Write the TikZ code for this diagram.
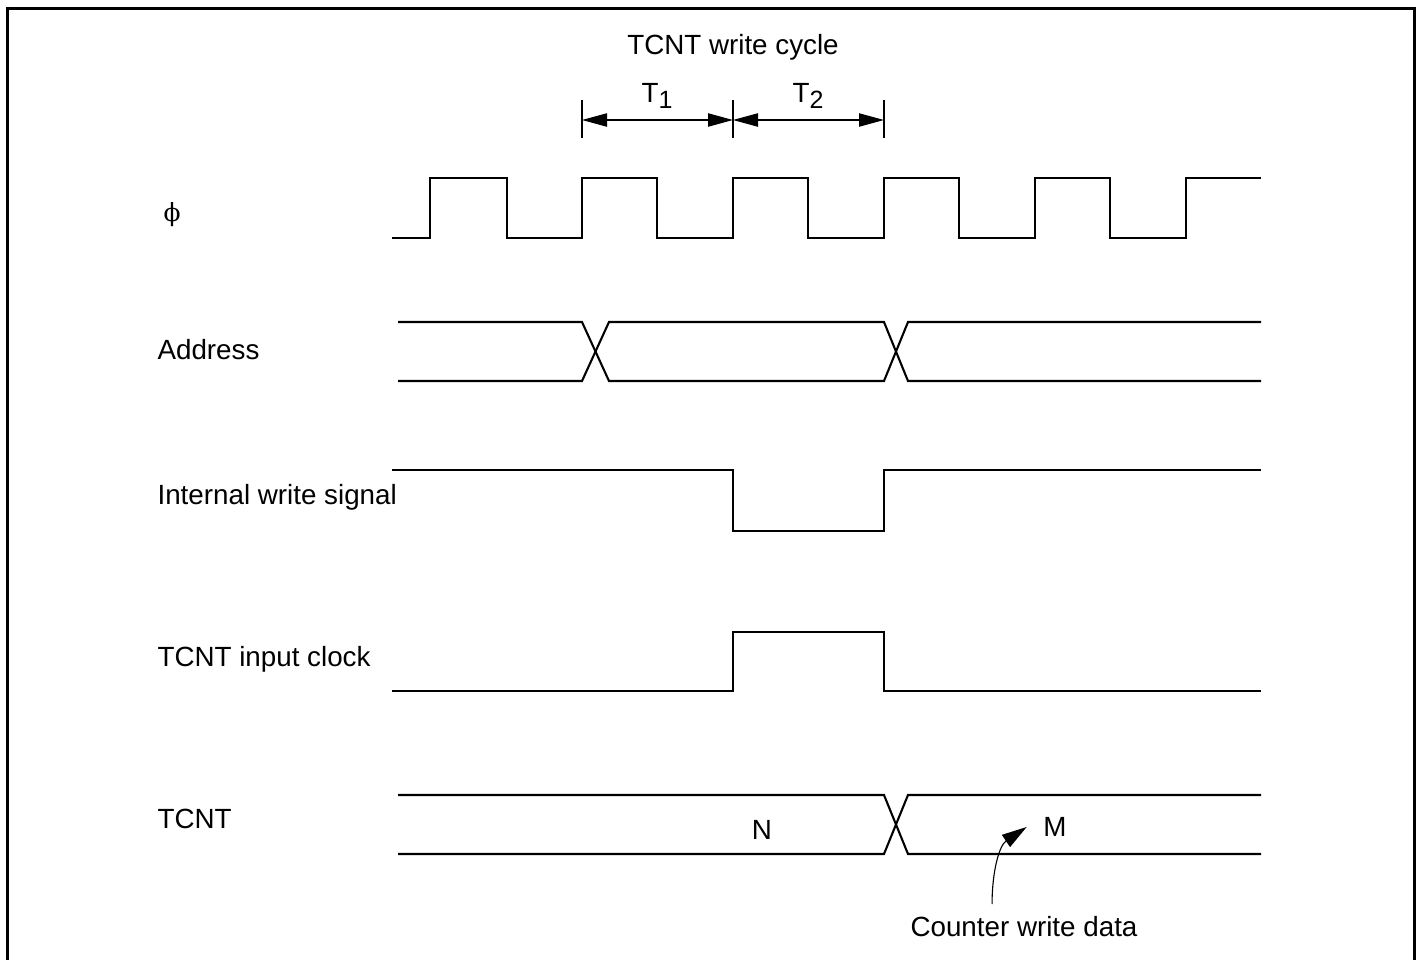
\documentclass[tikz,border=0pt]{standalone}
\usepackage{fontspec}
\setmainfont{Liberation Sans}
\newfontfamily\greekfont{DejaVu Serif}
\usetikzlibrary{arrows.meta}
\tikzstyle{sig} = [line width=0.75pt, line join=miter]
\tikzstyle{dimarrow} = [line width=0.4pt, {Triangle[length=9pt,width=4.8pt]}-{Triangle[length=9pt,width=4.8pt]}]
\tikzstyle{label} = [anchor=west, inner sep=0pt]
\newcommand{\lowsub}[1]{\raisebox{-2.2pt}{\fontsize{9}{10}\selectfont #1}}

\begin{document}
\begin{tikzpicture}[x=0.36pt, y=-0.36pt, every node/.style={font=\fontsize{10}{12}\selectfont}]
  \useasboundingbox (0,0) rectangle (1417,960);
  % Frame
  \draw[line width=1.1pt] (7.5,960) -- (7.5,8.5) -- (1414.5,8.5) -- (1414.5,960);

  % Write cycle timing
  \node (cycle) at (733,47) {TCNT write cycle};
  \coordinate (t0) at (582,120);
  \coordinate (t1) at (733,120);
  \coordinate (t2) at (884,120);
  \draw[line width=0.4pt] (582,100) -- (582,138);
  \draw[line width=0.4pt] (733,100) -- (733,138);
  \draw[line width=0.4pt] (884,100) -- (884,138);
  \draw[dimarrow] (t0) -- (t1);
  \draw[dimarrow] (t1) -- (t2);
  \node[anchor=base] (tone) at (657,102) {T\lowsub{1}};
  \node[anchor=base] (ttwo) at (808,102) {T\lowsub{2}};

  % Signal names
  \node[label] (phi) at (163,215) {\greekfont\fontsize{9}{10}\selectfont ϕ};
  \node[label] (addr) at (157,350) {Address};
  \node[label] (wr) at (157,497) {Internal write signal};
  \node[label] (clk) at (157,659) {TCNT input clock};
  \node[label] (tcnt) at (157,819) {TCNT};

  % System clock
  \draw[sig] (392,238) -| (430,178) -| (507,238) -| (582,178) -| (657,238)
    -| (733,178) -| (808,238) -| (884,178) -| (959,238) -| (1035,178)
    -| (1110,238) -| (1186,178) -- (1261,178);

  % Address bus
  \draw[sig] (398,322) -- (582,322) -- (609,381) -- (884,381) -- (908,322) -- (1261,322);
  \draw[sig] (398,381) -- (582,381) -- (609,322) -- (884,322) -- (908,381) -- (1261,381);

  % Internal write signal
  \draw[sig] (392,470) -- (733,470) -- (733,531) -- (884,531) -- (884,470) -- (1261,470);

  % TCNT input clock
  \draw[sig] (392,691) -- (733,691) -- (733,632) -- (884,632) -- (884,691) -- (1261,691);

  % TCNT value
  \draw[sig] (398,795) -- (884,795) -- (908,854) -- (1261,854);
  \draw[sig] (398,854) -- (884,854) -- (908,795) -- (1261,795);
  \node (n) at (762,830) {N};
  \node (m) at (1055,827) {M};

  % Counter write data
  \node (cwd) at (1024,927) {Counter write data};
  \draw[line width=0.4pt, -{Triangle[length=9pt,width=5.2pt]}]
    ([xshift=-11.5pt, yshift=1pt]cwd.north) to[out=90, in=214] ([xshift=-2.5pt]m.west);
\end{tikzpicture}
\end{document}
